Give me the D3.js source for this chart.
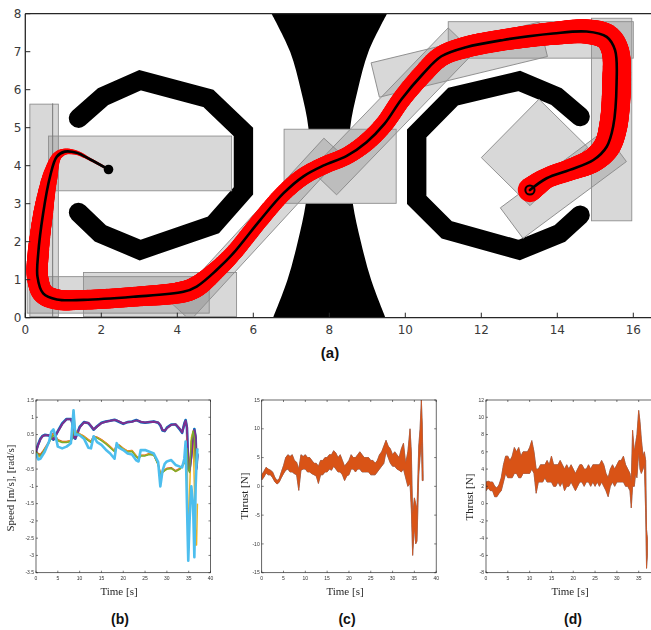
<!DOCTYPE html>
<html>
<head>
<meta charset="utf-8">
<script src="https://cdn.jsdelivr.net/npm/d3@7"></script>
<style>
  html, body { margin: 0; padding: 0; background: #fff; }
  svg { display: block; }
</style>
</head>
<body>
<svg id="fig" width="651" height="630"></svg>
<script>
// ---------------- (a) map, safe zones and trajectories ----------------
const mapXTicks = [0, 2, 4, 6, 8, 10, 12, 14, 16];
const mapYTicks = [0, 1, 2, 3, 4, 5, 6, 7, 8];

// hourglass obstacle: left / right boundary x at each height y (m)
const hourY     = [0, 1, 2, 3, 4, 5, 6, 7, 8];
const hourLeft  = [6.52, 6.90, 7.17, 7.38, 7.47, 7.45, 7.25, 6.97, 6.48];
const hourRight = [9.48, 9.10, 8.83, 8.62, 8.53, 8.55, 8.75, 9.03, 9.52];

// C-shaped walls (centre-line vertices, m)
const wallLeft  = [[1.40, 5.25], [2.05, 5.82], [3.02, 6.25], [4.82, 5.77], [5.74, 4.89],
                   [5.74, 3.34], [4.95, 2.44], [3.02, 1.78], [1.97, 2.22], [1.40, 2.77]];
const wallRight = [[14.60, 5.29], [13.98, 5.82], [13.00, 6.23], [11.26, 5.82], [10.30, 4.85],
                   [10.30, 3.10], [11.09, 2.31], [13.00, 1.78], [14.07, 2.22], [14.60, 2.70]];
const wallWidth = 0.51;

// safe zones: [centre x, centre y, length, width, angle deg]
const zones = [
  [0.495, 2.825, 0.75, 5.59, 0],
  [3.02, 4.06, 4.82, 1.44, 0],
  [2.445, 0.60, 4.79, 0.96, 0],
  [3.545, 0.61, 4.03, 1.16, 0],
  [6.10, 2.325, 5.91, 0.66, 47.4],
  [9.66, 5.43, 5.20, 0.94, 46],
  [8.285, 3.985, 2.95, 1.95, 0],
  [11.42, 6.79, 4.55, 0.93, 13.6],
  [13.565, 7.31, 4.87, 0.96, 0],
  [15.43, 5.215, 1.06, 5.33, 0],
  [13.40, 4.35, 2.16, 1.80, 45.4],
  [14.16, 3.50, 3.39, 1.00, 36.6]
];
const openZone = 6;              // zone that clears the hourglass neck
const zoneEdge = [[0.72, 0.02], [0.72, 5.64]];

// reference path and spread (half-width) of the simulated trajectories
const trajX = [2.19, 1.70, 1.35, 1.04, 0.83, 0.65, 0.47, 0.34, 0.32, 0.47,
               0.83, 1.53, 2.84, 4.16, 4.51, 5.04, 5.47, 6.18, 6.79, 7.32,
               7.84, 8.46, 8.98, 9.45, 9.90, 10.45, 10.95, 11.60, 12.58, 13.89,
               14.77, 15.30, 15.52, 15.56, 15.47, 15.30, 14.95, 14.33, 13.72, 13.28];
const trajY = [3.90, 4.17, 4.34, 4.37, 4.24, 3.71, 2.75, 1.69, 1.08, 0.64,
               0.48, 0.47, 0.55, 0.68, 0.82, 1.26, 1.69, 2.57, 3.27, 3.72,
               4.00, 4.26, 4.62, 5.10, 5.75, 6.40, 6.88, 7.12, 7.31, 7.48,
               7.53, 7.39, 7.04, 6.17, 5.03, 4.50, 4.15, 3.89, 3.67, 3.36];
const trajSpread = [0.03, 0.04, 0.06, 0.08, 0.12, 0.20, 0.26, 0.28, 0.28, 0.28,
                    0.27, 0.26, 0.26, 0.28, 0.28, 0.24, 0.22, 0.22, 0.22, 0.23,
                    0.23, 0.23, 0.24, 0.24, 0.25, 0.26, 0.27, 0.28, 0.28, 0.30,
                    0.32, 0.34, 0.36, 0.38, 0.37, 0.35, 0.32, 0.28, 0.27, 0.32];

// ---------------- (b) speeds ----------------
const tB = [0, 0.5, 1, 1.5, 2, 3, 3.5, 4, 4.5, 5, 6, 7, 8, 8.3, 8.6, 9, 9.5, 10, 11, 12,
            12.6, 13.2, 14, 15, 16, 17, 18, 18.5, 19, 20, 21, 22, 23, 23.5, 24, 25, 26, 27, 28, 28.5,
            29, 29.5, 30, 31, 32, 33, 33.5, 34, 34.3, 34.6, 34.9, 35.2, 35.6, 36, 36.3, 36.6, 36.8, 37];
const speedBlue   = [0.02, 0.22, 0.38, 0.46, 0.49, 0.47, 0.40, 0.35, 0.47, 0.60, 0.82, 0.95, 0.95, 0.85, 0.42,
                     0.38, 0.55, 0.72, 0.86, 0.83, 0.74, 0.64, 0.74, 0.84, 0.88, 0.90, 0.93, 0.90, 0.87, 0.81,
                     0.86, 0.88, 0.92, 0.89, 0.86, 0.84, 0.86, 0.88, 0.84, 0.76, 0.62, 0.60, 0.70, 0.79, 0.79,
                     0.64, 0.55, 0.82, 0.92, 0.70, -0.45, -0.50, -0.10, 0.38, 0.66, 0.40, -0.45, -0.05];
const speedOrange = [0.00, -0.05, -0.08, 0.00, 0.10, 0.30, 0.45, 0.55, 0.45, 0.35, 0.30, 0.30, 0.33, 0.40, 0.62,
                     0.60, 0.56, 0.52, 0.45, 0.35, 0.30, 0.45, 0.42, 0.35, 0.26, 0.15, 0.03, 0.22, 0.20, 0.10,
                     0.02, 0.04, -0.12, -0.18, -0.10, -0.10, -0.05, -0.08, -0.35, -0.62, -0.58, -0.52, -0.48, -0.46, -0.55,
                     -0.48, -0.40, -0.30, -0.20, 0.20, -0.20, -0.50, 0.30, 0.55, 0.50, -0.30, 0.10, 0.00];
const speedYellow = [0.00, -0.12, -0.15, -0.05, 0.08, 0.28, 0.42, 0.50, 0.42, 0.33, 0.28, 0.28, 0.32, 0.45, 1.20,
                     0.62, 0.57, 0.52, 0.44, 0.34, 0.28, 0.44, 0.41, 0.34, 0.25, 0.14, 0.02, 0.21, 0.19, 0.09,
                     0.01, 0.03, -0.13, -0.20, -0.11, -0.11, -0.06, -0.09, -0.36, -0.64, -0.60, -0.54, -0.50, -0.48, -0.57,
                     -0.50, -0.42, -0.32, -0.10, 0.50, -3.00, -1.20, 0.40, 0.60, -1.00, -2.70, -2.70, -1.50];
const speedPurple = [0.00, 0.20, 0.36, 0.45, 0.48, 0.48, 0.42, 0.36, 0.48, 0.58, 0.80, 0.94, 0.94, 0.87, 0.45,
                     0.39, 0.53, 0.70, 0.85, 0.84, 0.75, 0.65, 0.73, 0.83, 0.87, 0.90, 0.92, 0.91, 0.88, 0.82,
                     0.86, 0.87, 0.91, 0.90, 0.87, 0.85, 0.86, 0.87, 0.85, 0.78, 0.63, 0.61, 0.68, 0.78, 0.80,
                     0.66, 0.56, 0.80, 0.90, 0.72, -0.50, -0.55, -0.15, 0.35, 0.63, 0.45, -0.50, -0.10];
const speedGreen  = [0.00, -0.08, -0.12, -0.03, 0.07, 0.26, 0.40, 0.48, 0.42, 0.32, 0.27, 0.27, 0.30, 0.38, 0.60,
                     0.58, 0.54, 0.50, 0.42, 0.32, 0.27, 0.42, 0.40, 0.32, 0.23, 0.12, 0.00, 0.20, 0.18, 0.07,
                     -0.01, 0.01, -0.15, -0.20, -0.12, -0.12, -0.08, -0.10, -0.38, -0.65, -0.60, -0.55, -0.50, -0.48, -0.57,
                     -0.50, -0.42, -0.33, -0.25, 0.10, -0.50, -0.60, 0.30, 0.60, 0.40, -0.50, -0.40, -0.10];
const speedCyan   = [-0.05, -0.22, -0.20, -0.10, 0.00, 0.30, 0.58, 0.65, 0.45, 0.15, 0.10, 0.15, 0.25, 0.70, 1.20,
                     0.50, 0.50, 0.48, 0.38, 0.12, 0.10, 0.45, 0.28, 0.20, 0.06, -0.05, -0.20, 0.25, 0.12, 0.05,
                     -0.05, -0.08, -0.25, -0.28, 0.05, 0.05, 0.00, -0.05, -0.30, -1.00, -0.55, -0.35, -0.28, -0.24, -0.38,
                     -0.43, -0.45, -0.20, 0.30, -1.50, -3.15, -2.00, -1.00, -1.50, -3.05, -1.00, -0.30, 0.10];
const speedYTicks = [-3.5, -3, -2.5, -2, -1.5, -1, -0.5, 0, 0.5, 1, 1.5];
const timeTicks = [0, 5, 10, 15, 20, 25, 30, 35, 40];

// ---------------- (c) thrust, first pair ----------------
const tC = [0, 0.5, 1, 1.5, 2, 2.5, 3, 3.5, 4, 4.5, 5, 5.5, 6, 6.5, 7, 7.5, 8, 8.5, 9, 9.5,
            10, 10.5, 11, 11.5, 12, 12.5, 13, 13.5, 14, 14.5, 15, 15.5, 16, 16.5, 17, 17.5, 18, 18.5, 19, 19.5,
            20, 20.5, 21, 21.5, 22, 22.5, 23, 23.5, 24, 24.5, 25, 25.5, 26, 26.5, 27, 27.5, 28, 28.5, 29, 29.5,
            30, 30.5, 31, 31.5, 32, 32.5, 33, 33.5, 34, 34.3, 34.6, 35, 35.3, 35.6, 36, 36.3, 36.6, 36.8, 37];
const thrustCLo = [1.1, 1.6, 2.3, 2.0, 2.0, 1.5, 0.8, 0.4, 0.7, 1.5, 2.2, 2.8, 3.0, 2.5, 2.5, 2.2, 2.0, -0.7, 2.8, 3.0,
                   3.0, 2.5, 2.5, 2.2, 2.0, 1.8, 0.5, 2.0, 2.0, 2.5, 2.5, 3.0, 2.8, 3.5, 3.0, 2.5, 2.5, 2.0, 1.0, 1.8,
                   2.0, 3.0, 3.0, 2.5, 3.0, 3.0, 2.5, 2.5, 2.5, 2.5, 2.0, 2.0, 2.0, 2.5, 3.0, 3.5, 4.0, 6.0, 5.0, 4.0,
                   3.5, 3.5, 3.0, 2.8, 2.5, 3.0, 1.5, 0.0, 0.5, -4.0, -12.0, -7.0, -10.0, -9.5, 2.0, 5.0, 8.0, 1.0, 1.0];
const thrustCHi = [2.0, 2.6, 3.3, 3.0, 2.8, 2.5, 1.6, 1.0, 1.3, 2.5, 3.6, 5.0, 5.5, 5.2, 5.5, 4.5, 4.2, 3.0, 5.5, 5.2,
                   5.5, 5.0, 5.0, 4.5, 4.0, 4.0, 3.5, 4.5, 4.5, 5.0, 5.0, 5.5, 5.5, 6.2, 5.8, 5.0, 5.5, 4.5, 3.5, 4.0,
                   4.5, 5.5, 5.0, 5.0, 5.5, 6.0, 5.5, 5.0, 5.0, 5.0, 4.5, 4.5, 4.0, 4.5, 5.5, 6.0, 7.0, 8.0, 7.0, 6.5,
                   5.5, 6.0, 5.5, 5.0, 6.5, 7.5, 4.0, 6.0, 10.0, 6.0, -5.0, -2.0, -3.0, -4.0, 7.0, 10.0, 15.0, 11.0, 2.0];
const thrustCTicks = [-15, -10, -5, 0, 5, 10, 15];

// ---------------- (d) thrust, second pair ----------------
const tD = [0, 0.5, 1, 1.5, 2, 2.5, 3, 3.5, 4, 4.5, 5, 5.5, 6, 6.5, 7, 7.5, 8, 8.5, 9, 9.5,
            10, 10.5, 11, 11.5, 12, 12.5, 13, 13.5, 14, 14.5, 15, 15.5, 16, 16.5, 17, 17.5, 18, 18.5, 19, 19.5,
            20, 20.5, 21, 21.5, 22, 22.5, 23, 23.5, 24, 24.5, 25, 25.5, 26, 26.5, 27, 27.5, 28, 28.5, 29, 29.5,
            30, 30.5, 31, 31.5, 32, 32.5, 33, 33.3, 33.6, 34, 34.3, 34.6, 35, 35.3, 35.6, 36, 36.3, 36.6, 36.8, 37];
const thrustDLo = [1.5, 1.8, 1.5, 1.5, 0.8, 0.8, 1.2, 1.5, 2.5, 3.5, 3.0, 3.0, 3.0, 3.5, 3.5, 3.0, 3.0, 3.5, 3.5, 3.5,
                   3.5, 4.0, 3.5, 1.2, 2.5, 2.5, 2.5, 3.0, 2.5, 2.5, 2.5, 2.0, 2.0, 2.5, 2.0, 2.5, 1.5, 2.0, 2.0, 2.5,
                   2.0, 1.5, 2.0, 2.5, 2.5, 2.0, 2.5, 2.5, 2.0, 2.5, 2.0, 2.5, 2.0, 2.5, 2.0, 1.5, 0.8, 2.0, 2.5, 2.0,
                   2.5, 2.5, 2.5, 2.5, 2.0, 2.0, 1.5, -0.5, 2.0, 2.0, 3.5, 3.0, 6.0, 4.0, 3.5, 4.0, 4.5, -1.0, -7.5, -6.0];
const thrustDHi = [2.5, 2.6, 2.5, 2.5, 2.0, 1.8, 2.2, 3.0, 4.5, 5.5, 5.5, 5.0, 5.5, 6.5, 6.0, 6.5, 5.5, 6.0, 6.0, 6.0,
                   6.5, 7.3, 6.0, 4.0, 4.0, 4.5, 4.5, 4.5, 5.0, 4.5, 5.5, 4.5, 4.5, 4.5, 5.0, 4.5, 4.0, 4.5, 4.0, 4.5,
                   4.0, 3.5, 4.0, 4.5, 4.5, 4.0, 4.0, 4.5, 4.0, 4.5, 4.5, 4.5, 4.5, 5.0, 4.5, 3.5, 3.0, 4.0, 4.5, 4.0,
                   4.5, 5.0, 5.0, 5.5, 4.5, 4.0, 3.5, 2.5, 8.5, 6.0, 7.0, 8.0, 10.8, 9.5, 7.5, 5.5, 6.0, 5.0, -3.0, -4.0];
const thrustDTicks = [-8, -6, -4, -2, 0, 2, 4, 6, 8, 10, 12];

// =====================================================================
const svg = d3.select('#fig');
const defs = svg.append('defs');
svg.append('rect').attr('width', 651).attr('height', 630).attr('fill', '#fff');

const soft = defs.append('filter').attr('id', 'soft')
  .attr('x', '-5%').attr('y', '-5%').attr('width', '110%').attr('height', '110%');
soft.append('feGaussianBlur').attr('stdDeviation', 0.45);

// ---------------- panel (a) ----------------
const ax = d3.scaleLinear().domain([0, 16.5]).range([25.3, 652.3]);
const ay = d3.scaleLinear().domain([0, 8]).range([317.7, 13.7]);
const unit = ax(1) - ax(0);

defs.append('clipPath').attr('id', 'clipA').append('rect')
  .attr('x', ax(0)).attr('y', ay(8))
  .attr('width', ax(16.5) - ax(0)).attr('height', ay(0) - ay(8));

const gA = svg.append('g');
const plotA = gA.append('g').attr('clip-path', 'url(#clipA)');

// hourglass obstacle
const hour = hourY.map((v, i) => ({ y: v, l: hourLeft[i], r: hourRight[i] }));
plotA.append('path').datum(hour)
  .attr('d', d3.area().y(d => ay(d.y)).x0(d => ax(d.l)).x1(d => ax(d.r)).curve(d3.curveCatmullRom))
  .attr('fill', '#000');

// C walls
const wallLine = d3.line().x(d => ax(d[0])).y(d => ay(d[1]));
[wallLeft, wallRight].forEach(w => {
  plotA.append('path').attr('d', wallLine(w))
    .attr('fill', 'none').attr('stroke', '#000')
    .attr('stroke-width', wallWidth * unit)
    .attr('stroke-linecap', 'round').attr('stroke-linejoin', 'miter');
});

// safe zones
function placeZone(sel, z) {
  return sel.attr('x', -z[2] * unit / 2).attr('y', -z[3] * unit / 2)
    .attr('width', z[2] * unit).attr('height', z[3] * unit)
    .attr('transform', `translate(${ax(z[0])},${ay(z[1])}) rotate(${-z[4]})`);
}
placeZone(plotA.append('rect'), zones[openZone]).attr('fill', '#fff');
const zoneG = plotA.append('g');
zones.forEach(z => {
  placeZone(zoneG.append('rect'), z)
    .attr('fill', '#808080').attr('fill-opacity', 0.31)
    .attr('stroke', '#8f8f8f').attr('stroke-width', 0.9);
});
zoneG.append('line')
  .attr('x1', ax(zoneEdge[0][0])).attr('y1', ay(zoneEdge[0][1]))
  .attr('x2', ax(zoneEdge[1][0])).attr('y2', ay(zoneEdge[1][1]))
  .attr('stroke', '#777').attr('stroke-width', 1);

// trajectory bundle
const traj = trajX.map((v, i) => [v, trajY[i]]);
const pathLine = d3.line().x(d => ax(d[0])).y(d => ay(d[1])).curve(d3.curveCatmullRom.alpha(0.5));
const guide = plotA.append('path').attr('d', pathLine(traj)).attr('fill', 'none').attr('stroke', 'none');
const gNode = guide.node();
const total = gNode.getTotalLength();
const cum = [0];
for (let i = 1; i < traj.length; i++) {
  const dx = ax(traj[i][0]) - ax(traj[i - 1][0]);
  const dy = ay(traj[i][1]) - ay(traj[i - 1][1]);
  cum.push(cum[i - 1] + Math.hypot(dx, dy));
}
const spreadAt = d3.scaleLinear()
  .domain(cum.map(c => c / cum[cum.length - 1] * total))
  .range(trajSpread.map(s => s * unit));
const bandG = plotA.append('g').attr('fill', '#ff0000');
const samples = d3.range(0, total, 1.2).concat([total]);
samples.forEach(s => {
  const p = gNode.getPointAtLength(s);
  bandG.append('circle').attr('cx', p.x).attr('cy', p.y).attr('r', spreadAt(s));
});
plotA.append('path').attr('d', pathLine(traj))
  .attr('fill', 'none').attr('stroke', '#000').attr('stroke-width', 2.6)
  .attr('stroke-linecap', 'round');
plotA.append('circle')
  .attr('cx', ax(trajX[0])).attr('cy', ay(trajY[0])).attr('r', 4.8).attr('fill', '#000');
plotA.append('circle')
  .attr('cx', ax(trajX[trajX.length - 1])).attr('cy', ay(trajY[trajY.length - 1])).attr('r', 4.6)
  .attr('fill', 'none').attr('stroke', '#000').attr('stroke-width', 2);

// frame and ticks
const frameCol = '#262626';
gA.append('line').attr('x1', ax(0)).attr('x2', ax(0)).attr('y1', ay(0)).attr('y2', ay(8))
  .attr('stroke', frameCol).attr('stroke-width', 1.3);
gA.append('line').attr('x1', ax(0)).attr('x2', 651).attr('y1', ay(0)).attr('y2', ay(0))
  .attr('stroke', frameCol).attr('stroke-width', 1.3);
gA.append('line').attr('x1', ax(0)).attr('x2', 651).attr('y1', ay(8)).attr('y2', ay(8))
  .attr('stroke', frameCol).attr('stroke-width', 1.3);
mapXTicks.forEach(t => {
  gA.append('line').attr('x1', ax(t)).attr('x2', ax(t)).attr('y1', ay(0)).attr('y2', ay(0) - 5)
    .attr('stroke', frameCol).attr('stroke-width', 1);
  gA.append('text').attr('x', ax(t)).attr('y', 334).attr('text-anchor', 'middle')
    .attr('font-family', 'DejaVu Sans, Verdana, sans-serif').attr('font-size', 12)
    .attr('fill', '#3a3a3a').text(t);
});
mapYTicks.forEach(t => {
  gA.append('line').attr('x1', ax(0)).attr('x2', ax(0) + 5).attr('y1', ay(t)).attr('y2', ay(t))
    .attr('stroke', frameCol).attr('stroke-width', 1);
  gA.append('text').attr('x', 21.5).attr('y', ay(t) + 4.3).attr('text-anchor', 'end')
    .attr('font-family', 'DejaVu Sans, Verdana, sans-serif').attr('font-size', 12)
    .attr('fill', '#3a3a3a').text(t);
});
svg.append('text').attr('x', 330).attr('y', 358).attr('text-anchor', 'middle')
  .attr('font-family', 'Liberation Sans, Arial, sans-serif').attr('font-weight', 'bold')
  .attr('font-size', 15).attr('fill', '#111').text('(a)');

// ---------------- small panels ----------------
function smallPanel(id, left, yDomain, yTicks, yLabel, labelX, labelY, timeX) {
  const top = 400, bottom = 572.7, width = 174.5;
  const x = d3.scaleLinear().domain([0, 40]).range([left, left + width]);
  const y = d3.scaleLinear().domain(yDomain).range([bottom, top]);
  defs.append('clipPath').attr('id', 'clip' + id).append('rect')
    .attr('x', left).attr('y', top).attr('width', width).attr('height', bottom - top);
  const g = svg.append('g').attr('filter', 'url(#soft)');
  const plot = g.append('g').attr('clip-path', `url(#clip${id})`);
  const axG = g.append('g');
  axG.append('rect').attr('x', left).attr('y', top).attr('width', width).attr('height', bottom - top)
    .attr('fill', 'none').attr('stroke', '#262626').attr('stroke-width', 0.7);
  timeTicks.forEach(t => {
    axG.append('line').attr('x1', x(t)).attr('x2', x(t)).attr('y1', bottom).attr('y2', bottom - 2)
      .attr('stroke', '#262626').attr('stroke-width', 0.6);
    axG.append('line').attr('x1', x(t)).attr('x2', x(t)).attr('y1', top).attr('y2', top + 2)
      .attr('stroke', '#262626').attr('stroke-width', 0.6);
    // labels that would fall past the page edge are left out
    if (x(t) < 644) {
      axG.append('text').attr('x', x(t)).attr('y', bottom + 7.2).attr('text-anchor', 'middle')
        .attr('font-family', 'Liberation Sans, Arial, sans-serif').attr('font-size', 5)
        .attr('fill', '#333').text(t);
    }
  });
  yTicks.forEach(t => {
    axG.append('line').attr('x1', left).attr('x2', left + 2).attr('y1', y(t)).attr('y2', y(t))
      .attr('stroke', '#262626').attr('stroke-width', 0.6);
    axG.append('line').attr('x1', left + width).attr('x2', left + width - 2).attr('y1', y(t)).attr('y2', y(t))
      .attr('stroke', '#262626').attr('stroke-width', 0.6);
    axG.append('text').attr('x', left - 2).attr('y', y(t) + 1.7).attr('text-anchor', 'end')
      .attr('font-family', 'Liberation Sans, Arial, sans-serif').attr('font-size', 5)
      .attr('fill', '#333').text(t);
  });
  axG.append('text').attr('transform', `translate(${labelX},${labelY}) rotate(-90)`)
    .attr('text-anchor', 'middle')
    .attr('font-family', 'Liberation Serif, Times New Roman, serif').attr('font-size', 11)
    .attr('fill', '#262626').text(yLabel);
  axG.append('text').attr('x', timeX).attr('y', 595).attr('text-anchor', 'middle')
    .attr('font-family', 'Liberation Serif, Times New Roman, serif').attr('font-size', 11)
    .attr('fill', '#262626').text('Time [s]');
  return { plot, x, y };
}

function caption(txt, cx) {
  svg.append('text').attr('x', cx).attr('y', 624).attr('text-anchor', 'middle')
    .attr('font-family', 'Liberation Sans, Arial, sans-serif').attr('font-weight', 'bold')
    .attr('font-size', 14).attr('fill', '#111').text(txt);
}

// (b)
const pb = smallPanel('B', 36, [-3.5, 1.5], speedYTicks, 'Speed [m/s], [rad/s]', 14, 488, 119);
const speedSeries = [
  [speedBlue, '#0072BD', 2.6],
  [speedOrange, '#D95319', 1.6],
  [speedYellow, '#EDB120', 1.5],
  [speedPurple, '#7E2F8E', 2.0],
  [speedGreen, '#77AC30', 1.4],
  [speedCyan, '#4DBEEE', 2.6]
];
speedSeries.forEach(([vals, col, w]) => {
  const line = d3.line().x((d, i) => pb.x(tB[i])).y(d => pb.y(d));
  pb.plot.append('path').datum(vals).attr('d', line)
    .attr('fill', 'none').attr('stroke', col).attr('stroke-width', w)
    .attr('stroke-linejoin', 'round');
});
caption('(b)', 120);

// thrust bands: first motor (blue) lies under the second (orange)
function thrustBands(p, times, lo, hi) {
  const band = d3.area().x((d, i) => p.x(times[i])).y0(d => p.y(d[0])).y1(d => p.y(d[1]));
  const data = times.map((t, i) => [lo[i], hi[i]]);
  p.plot.append('path').datum(data).attr('d', band)
    .attr('fill', '#0072BD').attr('stroke', '#0072BD').attr('stroke-width', 0.5);
  p.plot.append('path').datum(data).attr('d', band)
    .attr('fill', '#D95319').attr('stroke', '#D95319').attr('stroke-width', 0.7);
}

// (c)
const pc = smallPanel('C', 261.7, [-15, 15], thrustCTicks, 'Thrust [N]', 248, 496, 345);
thrustBands(pc, tC, thrustCLo, thrustCHi);
caption('(c)', 347);

// (d)
const pd = smallPanel('D', 486, [-8, 12], thrustDTicks, 'Thrust [N]', 473, 497, 570);
thrustBands(pd, tD, thrustDLo, thrustDHi);
caption('(d)', 573);
</script>
</body>
</html>
